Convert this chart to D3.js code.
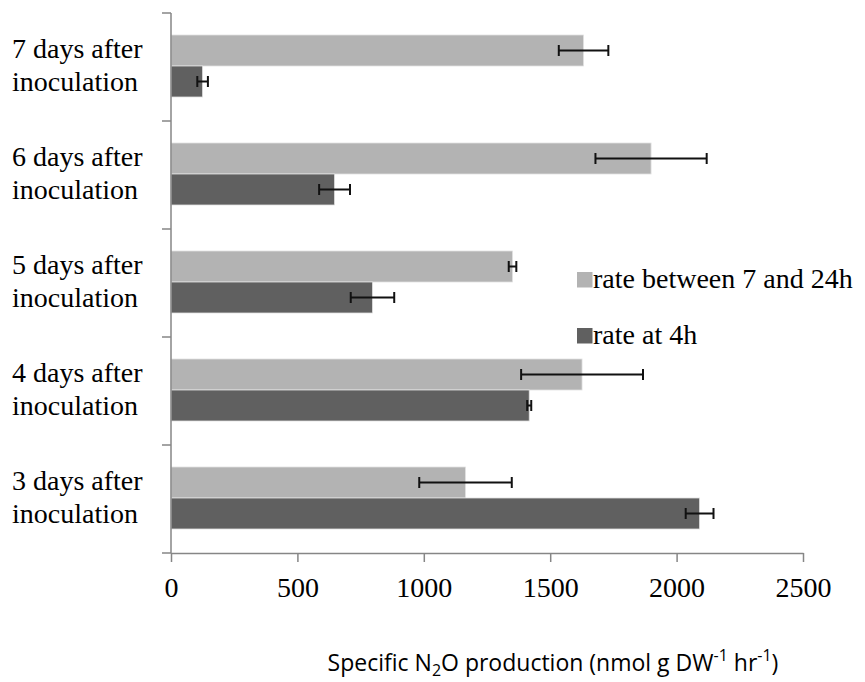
<!DOCTYPE html>
<html>
<head>
<meta charset="utf-8">
<script src="https://cdn.jsdelivr.net/npm/d3@7"></script>
<style>
  body { margin: 0; background: #fff; }
  svg { display: block; }
</style>
</head>
<body>
<script>
// categories, top to bottom
const days = ['7 days after', '6 days after', '5 days after', '4 days after', '3 days after'];
const series = ['rate between 7 and 24h', 'rate at 4h'];
const rateLate = [1632, 1899, 1351, 1626, 1165];   // rate between 7 and 24h
const errLate  = [98, 220, 15, 241, 183];
const rate4h   = [125, 647, 797, 1417, 2091];      // rate at 4h
const err4h    = [21, 61, 86, 8, 55];
const xTicks = [0, 500, 1000, 1500, 2000, 2500];

const w = 865, h = 682;
const colors = ['#b3b3b3', '#606060'];
const serif = '"Liberation Serif", "Times New Roman", serif';

const svg = d3.select('body').append('svg')
  .attr('width', w)
  .attr('height', h);

const x = d3.scaleLinear().domain([0, 2500]).range([171, 803]);
const y = d3.scaleBand().domain(days).range([13, 553]);
const sub = d3.scaleBand().domain(series).range([22, 84]);

// rows of data, one per bar
const rows = [];
days.forEach((d, i) => {
  rows.push({ day: d, s: series[0], v: rateLate[i], e: errLate[i] });
  rows.push({ day: d, s: series[1], v: rate4h[i], e: err4h[i] });
});

// bars
svg.selectAll('rect.bar')
  .data(rows)
  .enter()
  .append('rect')
  .attr('class', 'bar')
  .attr('x', x(0))
  .attr('y', d => y(d.day) + sub(d.s))
  .attr('width', d => x(d.v) - x(0))
  .attr('height', sub.bandwidth())
  .attr('fill', d => colors[series.indexOf(d.s)])
  .attr('stroke', '#e2e2e2')
  .attr('stroke-width', 0.8);

// error bars
const eb = svg.selectAll('g.err')
  .data(rows)
  .enter()
  .append('g')
  .attr('class', 'err')
  .attr('stroke', '#111')
  .attr('stroke-width', 2);
const cy = d => y(d.day) + sub(d.s) + sub.bandwidth() / 2;
eb.append('line')
  .attr('x1', d => x(d.v - d.e)).attr('x2', d => x(d.v + d.e))
  .attr('y1', cy).attr('y2', cy);
eb.append('line')
  .attr('x1', d => x(d.v - d.e)).attr('x2', d => x(d.v - d.e))
  .attr('y1', d => cy(d) - 5.5).attr('y2', d => cy(d) + 5.5);
eb.append('line')
  .attr('x1', d => x(d.v + d.e)).attr('x2', d => x(d.v + d.e))
  .attr('y1', d => cy(d) - 5.5).attr('y2', d => cy(d) + 5.5);

// x axis
const xAxis = svg.append('g')
  .attr('transform', 'translate(0,553)')
  .call(d3.axisBottom(x).tickValues(xTicks).tickFormat(d3.format('')).tickSize(9).tickSizeOuter(0).tickPadding(15));
xAxis.select('.domain').attr('stroke', '#868686').attr('stroke-width', 1.5);
xAxis.selectAll('.tick line').attr('stroke', '#868686').attr('stroke-width', 1.5);
xAxis.selectAll('.tick text')
  .attr('fill', '#000')
  .style('font-family', serif)
  .style('font-size', '28px');

// y axis: ticks between categories
const yAxis = svg.append('g');
yAxis.append('line')
  .attr('x1', x(0)).attr('x2', x(0))
  .attr('y1', y.range()[0]).attr('y2', y.range()[1])
  .attr('stroke', '#868686').attr('stroke-width', 1.5);
yAxis.selectAll('line.tk')
  .data(days.map(d => y(d)).concat([y.range()[1]]))
  .enter()
  .append('line')
  .attr('class', 'tk')
  .attr('x1', x(0) - 9).attr('x2', x(0))
  .attr('y1', d => d).attr('y2', d => d)
  .attr('stroke', '#868686').attr('stroke-width', 1.5);

// category labels
const lab = svg.selectAll('text.cat')
  .data(days)
  .enter()
  .append('text')
  .attr('class', 'cat')
  .style('font-family', serif)
  .style('font-size', '28px')
  .attr('fill', '#000');
lab.append('tspan')
  .attr('x', 12)
  .attr('y', d => y(d) + y.bandwidth() / 2 - 9)
  .text(d => d);
lab.append('tspan')
  .attr('x', 12)
  .attr('y', d => y(d) + y.bandwidth() / 2 + 24)
  .text('inoculation');

// legend
const leg = svg.selectAll('g.leg')
  .data(series)
  .enter()
  .append('g')
  .attr('class', 'leg')
  .attr('transform', (d, i) => `translate(577,${272 + i * 56})`);
leg.append('rect')
  .attr('width', 15.5).attr('height', 15.5)
  .attr('fill', (d, i) => colors[i]);
leg.append('text')
  .attr('x', 16)
  .attr('y', 15.5)
  .style('font-family', serif)
  .style('font-size', '28px')
  .attr('fill', '#000')
  .text(d => d);

// axis title
const title = svg.append('text')
  .attr('x', 553)
  .attr('y', 671)
  .attr('text-anchor', 'middle')
  .style('font-family', '"Open Sans", "Liberation Sans", sans-serif')
  .style('font-size', '23px')
  .attr('fill', '#000');
title.append('tspan').text('Specific N');
title.append('tspan').attr('dy', 5).style('font-size', '16px').text('2');
title.append('tspan').attr('dy', -5).text('O production (nmol g DW');
title.append('tspan').attr('dy', -10).style('font-size', '16px').text('-1');
title.append('tspan').attr('dy', 10).text(' hr');
title.append('tspan').attr('dy', -10).style('font-size', '16px').text('-1');
title.append('tspan').attr('dy', 10).text(')');
</script>
</body>
</html>
